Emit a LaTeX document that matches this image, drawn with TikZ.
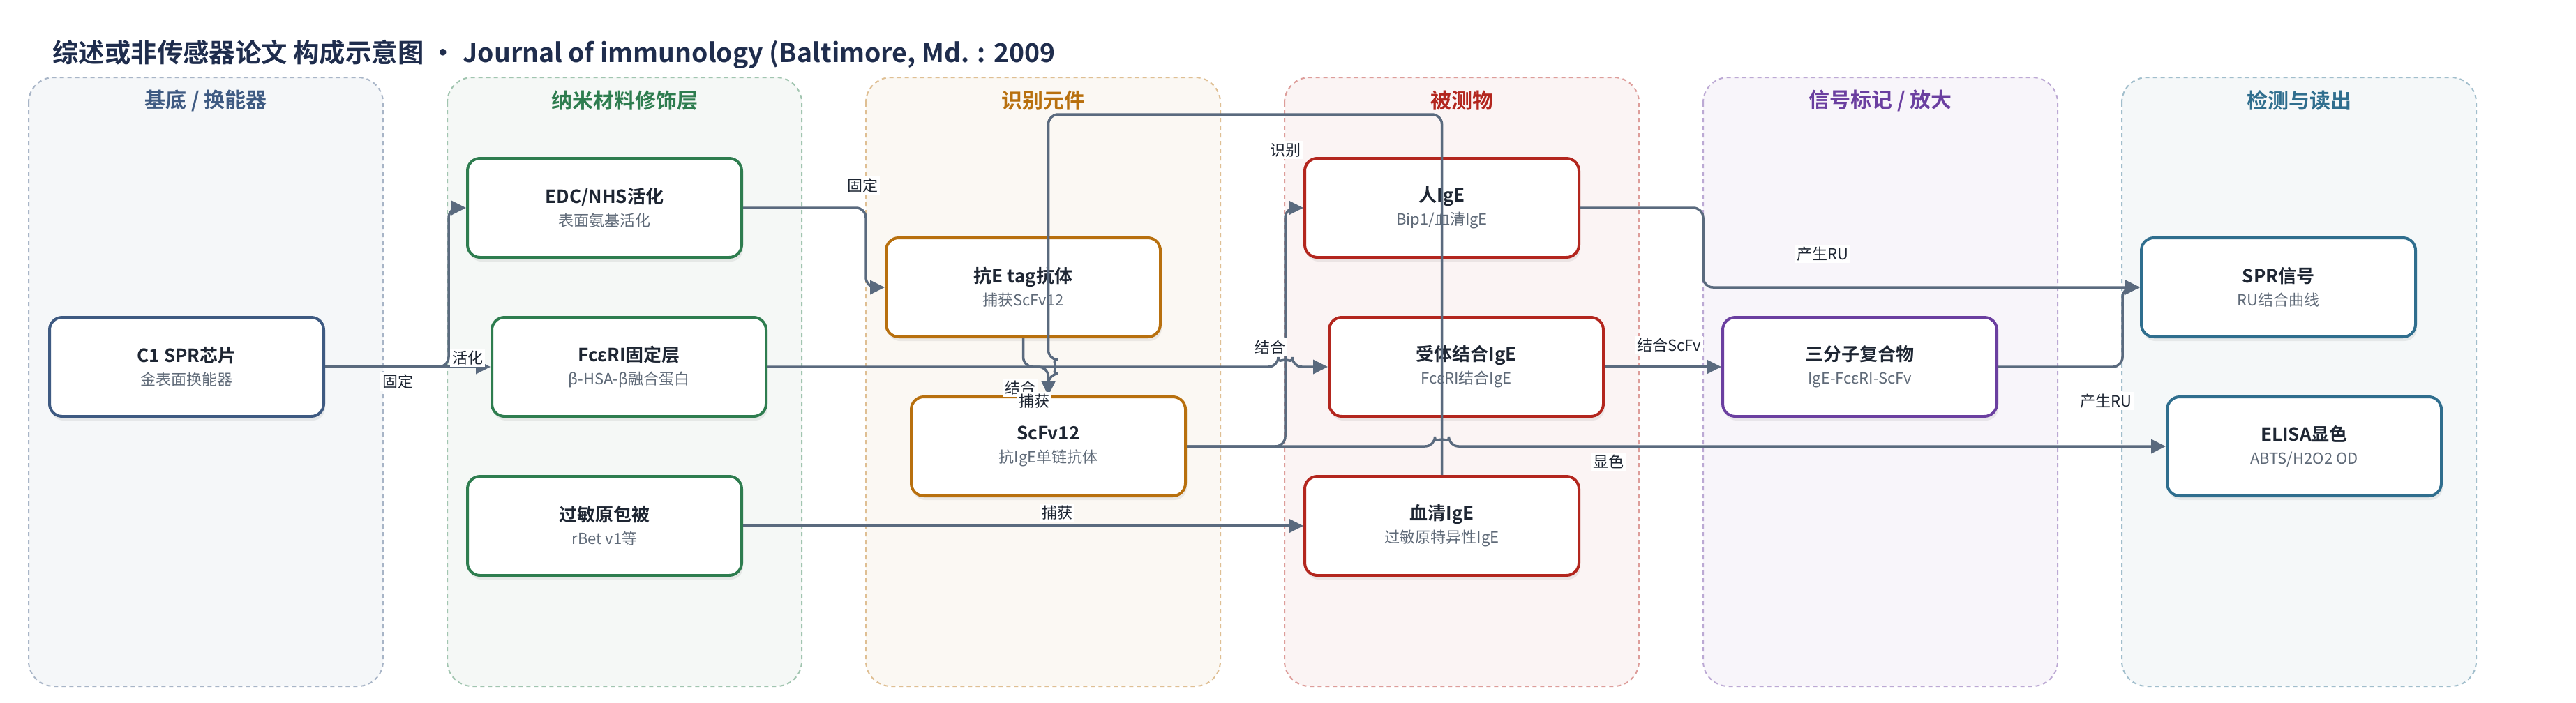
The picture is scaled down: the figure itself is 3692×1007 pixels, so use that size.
\documentclass[tikz,border=0pt]{standalone}
\usepackage{fontspec}
\setmainfont{Noto Sans CJK SC}[BoldFont={Noto Sans CJK SC Bold}]
\usetikzlibrary{arrows.meta,shadows}

\definecolor{ink}{HTML}{1E2633}
\definecolor{subink}{HTML}{5F6A78}
\definecolor{titleink}{HTML}{1F2D4D}
\definecolor{wirecol}{HTML}{5A6A7E}
% lane colours
\definecolor{baseC}{HTML}{3E5A82}
\definecolor{nanoC}{HTML}{2E7D4F}
\definecolor{recoC}{HTML}{B8700E}
\definecolor{anaC}{HTML}{B3261E}
\definecolor{sigC}{HTML}{6B3FA0}
\definecolor{readC}{HTML}{2F6E8E}

\begin{document}
\begin{tikzpicture}[x=0.5pt, y=-0.5pt,
    lanebox/.style={draw=#1!45, fill=#1!5, line width=1pt, dash pattern=on 3pt off 2.5pt, rounded corners=18pt},
    lanehead/.style={text=#1, font=\fontsize{15}{18}\selectfont\bfseries},
    card/.style={draw=#1, fill=white, text=ink, line width=2pt, rounded corners=9pt,
        minimum width=196.5pt, minimum height=71pt, align=center, font=\fontsize{11}{13}\selectfont,
        drop shadow={opacity=0.13, shadow xshift=1pt, shadow yshift=-3pt}},
    link/.style={draw=wirecol, line width=1.75pt, rounded corners=7pt, -{Triangle[length=10.5pt, width=10pt]}},
    tag/.style={fill=white, text=ink, inner sep=1.5pt, font=\fontsize{11}{13}\selectfont}]
    \useasboundingbox (0,0) rectangle (3692,1007);
    \fill[white] (0,0) rectangle (3692,1007);

    % heading
    \node[anchor=west, inner sep=0pt, text=titleink, font=\fontsize{18.7}{23}\selectfont\bfseries] (heading) at (75,78)
        {综述或非传感器论文 构成示意图\hspace{0.25em}•\hspace{0.25em}Journal of immunology (Baltimore, Md. : 2009};

    % swim lanes
    \foreach \i/\ttl/\tc in {
        0/{基底 / 换能器}/baseC,
        1/纳米材料修饰层/nanoC,
        2/识别元件/recoC,
        3/被测物/anaC,
        4/{信号标记 / 放大}/sigC,
        5/检测与读出/readC} {
        \draw[lanebox=\tc] (41+600*\i,111) rectangle ++(508,873);
        \node[lanehead=\tc] (lane\i) at (295+600*\i,144) {\ttl};
    }

    % components
    \foreach \nm/\xx/\yy/\col/\ttl/\subt in {
        c1/267.5/526/baseC/{C1 SPR芯片}/金表面换能器,
        edc/866.5/298/nanoC/{EDC/NHS活化}/表面氨基活化,
        fce/901.5/526/nanoC/FcεRI固定层/β-HSA-β融合蛋白,
        allergen/866.5/754/nanoC/过敏原包被/{rBet v1等},
        antiE/1466.5/412/recoC/{抗E tag抗体}/捕获ScFv12,
        scfv/1502.5/640/recoC/ScFv12/抗IgE单链抗体,
        hige/2066.5/298/anaC/人IgE/{Bip1/血清IgE},
        rige/2101.5/526/anaC/受体结合IgE/FcεRI结合IgE,
        sige/2066.5/754/anaC/血清IgE/过敏原特异性IgE,
        tri/2665.5/526/sigC/三分子复合物/IgE-FcεRI-ScFv,
        spr/3265.5/412/readC/SPR信号/RU结合曲线,
        elisa/3302.5/640/readC/ELISA显色/{ABTS/H2O2 OD}} {
        \node[card=\col] (\nm) at (\xx,\yy)
            {{\fontsize{13}{15}\selectfont\bfseries\ttl}\\[3.5pt]{\color{subink}\subt}};
    }

    % connectors
    \draw[link] (c1.east) -- (fce.west);
    \draw[link] (c1.east) -- (643,526) |- (edc.west);
    \draw[link] (edc.east) -- (1241,298) |- (antiE.west);
    \draw[link] (fce.east) -- (1832,526) arc[start angle=180, end angle=360, radius=10] -- (rige.west);
    \draw[link] (allergen.east) -- (sige.west);
    \draw[link] (antiE.south) |- (1502.5,526) -- (scfv.north);
    \draw[link] (scfv.east) -- (1842,640) |- (hige.west);
    \draw[link] (scfv.east) -- (2056.5,640) arc[start angle=180, end angle=360, radius=10] -- (elisa.west);
    \draw[link] (sige.north) -- (2066.5,164) -- (1502.5,164) -- (1502.5,516)
        arc[start angle=-90, end angle=90, radius=10] -- (scfv.north);
    \draw[link] (hige.east) -- (2441,298) |- (spr.west);
    \draw[link] (rige.east) -- (tri.west);
    \draw[link] (tri.east) -- (3042,526) |- (spr.west);

    % connector labels
    \foreach \nm/\xx/\yy/\txt in {
        tagA/570/547/固定, tagB/670/513/活化, tagC/1236/266/固定,
        tagD/1462/556/结合, tagE/1482/575/捕获, tagF/1842/215/识别,
        tagG/1820/498/结合, tagH/2305/662/显色, tagI/1515/735/捕获,
        tagJ/2612/364/产生RU, tagK/2392/495/结合ScFv, tagL/3018/575/产生RU} {
        \node[tag] (\nm) at (\xx,\yy) {\txt};
    }
\end{tikzpicture}
\end{document}
